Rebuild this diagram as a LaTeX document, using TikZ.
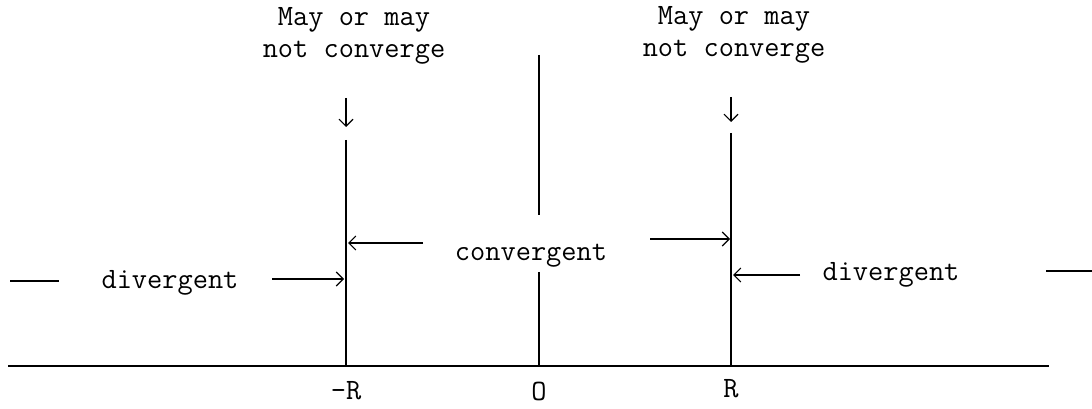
\documentclass[tikz,border=0pt]{standalone}
\usepackage{fontspec}
\usetikzlibrary{arrows.meta}
\tikzset{
        typed/.style={font=\ttfamily\fontsize{21}{23}\selectfont, inner sep=0pt, align=center},
        bar/.style={line width=1.4pt},
        pointer/.style={line width=0.8pt, -{Straight Barb[length=5pt,width=10pt]}}
}
\begin{document}
\begin{tikzpicture}[x=0.025cm,y=0.025cm]
        \useasboundingbox (0,0) rectangle (1092,408);
        % axis and the three verticals
        \coordinate (axL) at (8,42);
        \coordinate (axR) at (1049,42);
        \coordinate (mRtop) at (346,268);
        \coordinate (mRbot) at (346,42);
        \coordinate (Otop) at (539,353);
        \coordinate (Omid1) at (539,193);
        \coordinate (Omid2) at (539,136);
        \coordinate (Obot) at (539,42);
        \coordinate (Rtop) at (731,275);
        \coordinate (Rbot) at (731,42);
        \draw[bar] (axL) -- (axR);
        \draw[bar] (mRtop) -- (mRbot);
        \draw[bar] (Otop) -- (Omid1);
        \draw[bar] (Omid2) -- (Obot);
        \draw[bar] (Rtop) -- (Rbot);
        \node[typed] (labmR) at (346,17) {-R};
        \node[typed] (labO) at (539,17) {O};
        \node[typed] (labR) at (731,19) {R};
        % labels above
        \node[typed] (mayL) at (354,372) {May or may\\not converge};
        \node[typed] (mayR) at (734,373) {May or may\\not converge};
        \coordinate (dnL) at (346,310);
        \coordinate (dnLend) at (346,281);
        \coordinate (dnR) at (731,311);
        \coordinate (dnRend) at (731,286);
        \draw[pointer] (dnL) -- (dnLend);
        \draw[pointer] (dnR) -- (dnRend);
        % regions
        \node[typed] (conv) at (531,152) {convergent};
        \node[typed] (divL) at (170,125) {divergent};
        \node[typed] (divR) at (891,133) {divergent};
        \coordinate (cvL) at (423,165);
        \coordinate (cvLend) at (348,165);
        \coordinate (cvR) at (650,169);
        \coordinate (cvRend) at (730,169);
        \coordinate (dvL) at (272,129);
        \coordinate (dvLend) at (344,129);
        \coordinate (dvR) at (800,133);
        \coordinate (dvRend) at (733,133);
        \draw[pointer] (cvL) -- (cvLend);
        \draw[pointer] (cvR) -- (cvRend);
        \draw[pointer] (dvL) -- (dvLend);
        \draw[pointer] (dvR) -- (dvRend);
        \coordinate (dashL1) at (10,127);
        \coordinate (dashL2) at (59,127);
        \coordinate (dashR1) at (1046,137);
        \coordinate (dashR2) at (1092,137);
        \draw[line width=0.8pt] (dashL1) -- (dashL2);
        \draw[line width=0.8pt] (dashR1) -- (dashR2);
\end{tikzpicture}
\end{document}
